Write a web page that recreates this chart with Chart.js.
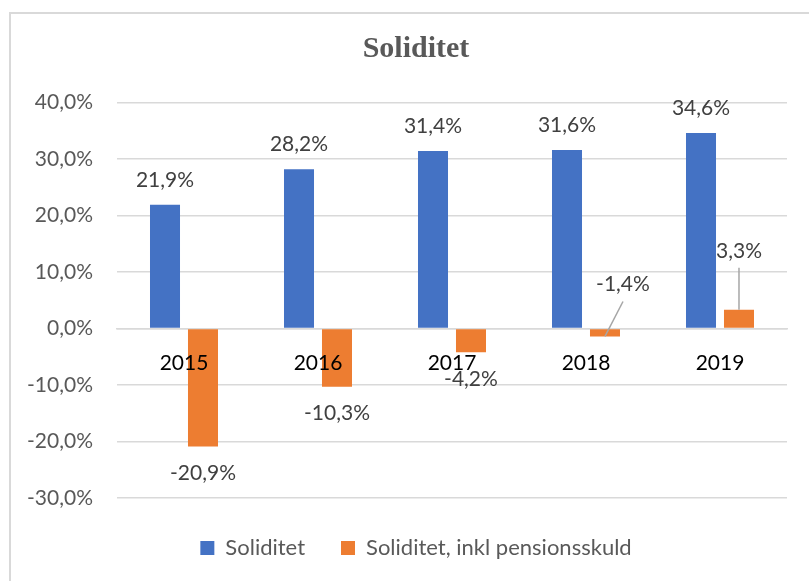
<!DOCTYPE html>
<html>
<head>
<meta charset="utf-8">
<title>Soliditet</title>
<script src="https://cdn.jsdelivr.net/npm/chart.js@4.4.0/dist/chart.umd.min.js"></script>
<style>
  html, body { margin: 0; padding: 0; background: #fff; overflow: hidden; }
  #wrap { position: relative; width: 809px; height: 581px; }
  #frame { position: absolute; left: 9px; top: 12px; width: 900px; height: 700px; border: 2px solid #d9d9d9; pointer-events: none; }
</style>
</head>
<body>
<div id="wrap">
  <canvas id="chart" width="809" height="581"></canvas>
  <div id="frame"></div>
</div>
<script>
// values
const years = ['2015', '2016', '2017', '2018', '2019'];
const soliditet = [21.9, 28.2, 31.4, 31.6, 34.6];
const soliditetPension = [-20.9, -10.3, -4.2, -1.4, 3.3];
const yMin = -30, yMax = 40, yStep = 10;

const FONT = 'Lato, "Open Sans", sans-serif';
const pct = v => Number(v).toFixed(1).replace('.', ',') + '%';

// two small orange bars have their labels pulled out with a leader line
const pulled = {
  3: { dx: 18, dy: -44, fromZero: true },
  4: { dx: 0, dy: -59, fromZero: false }
};

const barLabels = {
  id: 'barLabels',
  afterDatasetsDraw(chart) {
    const ctx = chart.ctx;
    const zero = chart.scales.y.getPixelForValue(0);
    ctx.save();
    ctx.font = '21px ' + FONT;
    ctx.fillStyle = '#404040';
    ctx.textAlign = 'center';
    ctx.textBaseline = 'middle';
    chart.data.datasets.forEach((ds, di) => {
      chart.getDatasetMeta(di).data.forEach((bar, i) => {
        const v = ds.data[i];
        let x = bar.x, y;
        const p = di === 1 ? pulled[i] : null;
        if (p) {
          x = bar.x + p.dx;
          y = (p.fromZero ? zero : bar.y) + p.dy;
          ctx.strokeStyle = '#a6a6a6';
          ctx.lineWidth = 1.5;
          ctx.beginPath();
          ctx.moveTo(x, y + 17);
          ctx.lineTo(bar.x, bar.y);
          ctx.stroke();
        } else {
          y = v >= 0 ? bar.y - 25 : bar.y + 27;
        }
        ctx.fillText(pct(v), x, y);
      });
    });
    ctx.restore();
  }
};

new Chart(document.getElementById('chart').getContext('2d'), {
  type: 'bar',
  data: {
    labels: years,
    datasets: [
      { label: 'Soliditet', data: soliditet, backgroundColor: '#4472C4' },
      { label: 'Soliditet, inkl pensionsskuld', data: soliditetPension, backgroundColor: '#ED7D31' }
    ]
  },
  options: {
    responsive: false,
    animation: false,
    categoryPercentage: 0.567,
    barPercentage: 0.79,
    // right padding < 0 so title + legend centre where the (wider) original chart did
    layout: { padding: { left: 17, right: -6, top: 0, bottom: 12 } },
    plugins: {
      title: {
        display: true, text: 'Soliditet', color: '#595959',
        font: { family: '"Liberation Serif", serif', size: 30, weight: 'bold' },
        padding: { top: 31, bottom: 35.5 }
      },
      legend: {
        position: 'bottom',
        labels: { boxWidth: 14, boxHeight: 14, padding: 36, color: '#595959', font: { family: FONT, size: 22 } },
        title: { display: true, text: '', font: { size: 3, lineHeight: 1 }, padding: 0 }   // spacer above legend
      },
      tooltip: { enabled: false }
    },
    scales: {
      y: {
        min: yMin, max: yMax,
        ticks: { stepSize: yStep, padding: 24, color: '#595959', font: { family: FONT, size: 21 }, callback: pct },
        grid: { color: '#d9d9d9', lineWidth: 1.5, drawTicks: false },
        border: { display: false },
        afterFit: s => { s.width = 100; }
      },
      // empty right gutter
      y2: {
        position: 'right',
        grid: { display: false, drawTicks: false },
        ticks: { display: false },
        border: { display: false },
        afterFit: s => { s.width = 28; }
      },
      x: {
        position: { y: 0 },
        grid: { display: false, drawTicks: false },
        border: { color: '#d9d9d9', width: 1.5 },
        ticks: { z: 1, color: '#000', padding: 22, font: { family: FONT, size: 21 } }
      }
    }
  },
  plugins: [barLabels]
});
</script>
</body>
</html>
